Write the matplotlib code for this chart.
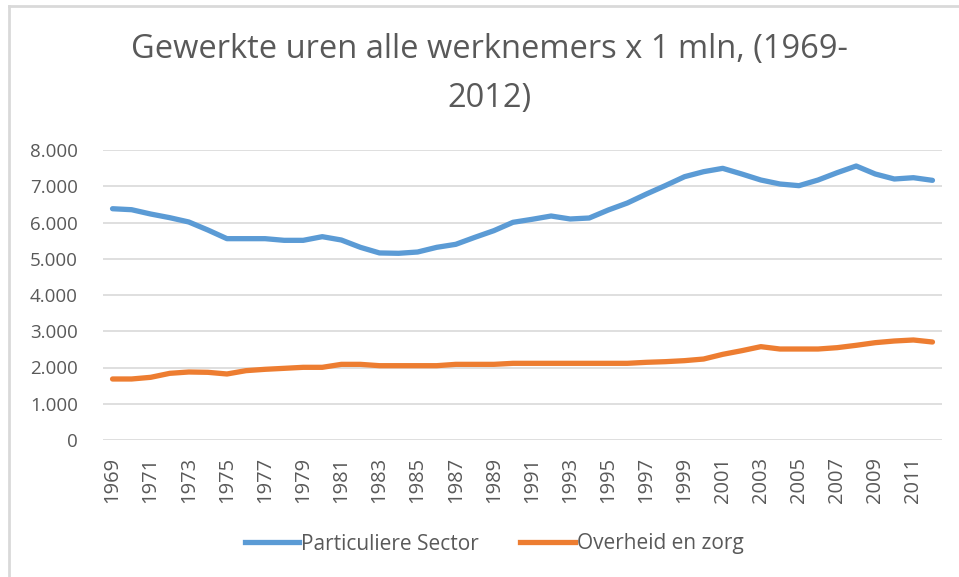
import matplotlib
matplotlib.use("Agg")
import matplotlib.pyplot as plt
from matplotlib.lines import Line2D

years = list(range(1969, 2013))
particuliere = [6380, 6353, 6234, 6133, 6014, 5793, 5554, 5554, 5554, 5508,
                5508, 5609, 5517, 5315, 5160, 5150, 5186, 5315, 5398, 5591,
                5775, 6005, 6088, 6179, 6097, 6124, 6345, 6538, 6786, 7020,
                7264, 7402, 7494, 7338, 7172, 7062, 7016, 7172, 7374, 7558,
                7338, 7200, 7236, 7163]
overheid = [1683, 1683, 1729, 1839, 1876, 1867, 1821, 1913, 1950, 1977,
            2005, 2005, 2087, 2087, 2050, 2050, 2050, 2050, 2087, 2087,
            2087, 2115, 2115, 2115, 2115, 2115, 2115, 2115, 2143, 2161,
            2189, 2234, 2363, 2464, 2575, 2510, 2510, 2510, 2547, 2612,
            2685, 2731, 2759, 2703]
yticks = [0, 1000, 2000, 3000, 4000, 5000, 6000, 7000, 8000]
ytick_labels = ["0", "1.000", "2.000", "3.000", "4.000", "5.000", "6.000", "7.000", "8.000"]
title = "Gewerkte uren alle werknemers x 1 mln, (1969-\n2012)"
series_names = ["Particuliere Sector", "Overheid en zorg"]
colors = ["#5B9BD5", "#ED7D31"]

plt.rcParams['font.family'] = ['Open Sans', 'DejaVu Sans']
txt = "#595959"

W, H = 959, 577
fig = plt.figure(figsize=(W/100, H/100), dpi=100)
ax = fig.add_axes([103/W, 1-440/H, (942-103)/W, (440-150)/H])

x = list(range(len(years)))
ax.plot(x, particuliere, color=colors[0], lw=3.8, solid_capstyle='round', solid_joinstyle='round')
ax.plot(x, overheid, color=colors[1], lw=3.8, solid_capstyle='round', solid_joinstyle='round')

ax.set_xlim(-0.5, len(years)-0.5)
ax.set_ylim(0, 8000)
ax.set_yticks(yticks)
ax.set_yticklabels(ytick_labels)
ax.set_xticks(x[::2])
ax.set_xticklabels([str(y) for y in years[::2]], rotation=90)
ax.tick_params(axis='both', length=0, colors=txt)
ax.tick_params(axis='y', pad=18, labelsize=13.5)
ax.tick_params(axis='x', pad=12, labelsize=14.5)
ax.grid(axis='y', color='#D9D9D9', lw=1.2)
ax.set_axisbelow(True)
for s in ax.spines.values():
    s.set_visible(False)

fig.text(489/W, 1-74/H, title, ha='center', va='center', fontsize=23.5, color=txt,
         linespacing=1.65)

handles = [Line2D([], [], color=c, lw=3.8) for c in colors]
fig.legend(handles, series_names, loc='center', bbox_to_anchor=(494/W, 1-544/H),
           ncol=2, frameon=False, fontsize=15, labelcolor=txt, handlelength=2.6,
           handletextpad=0.1, columnspacing=2.0)

# chart border (top and left visible)
fig.add_artist(Line2D([9/W, 9/W], [0, 1-6/H], color='#D9D9D9', lw=2, transform=fig.transFigure))
fig.add_artist(Line2D([9/W, 1], [1-6/H, 1-6/H], color='#D9D9D9', lw=2, transform=fig.transFigure))

fig.savefig("out.png", dpi=100, facecolor='white')
